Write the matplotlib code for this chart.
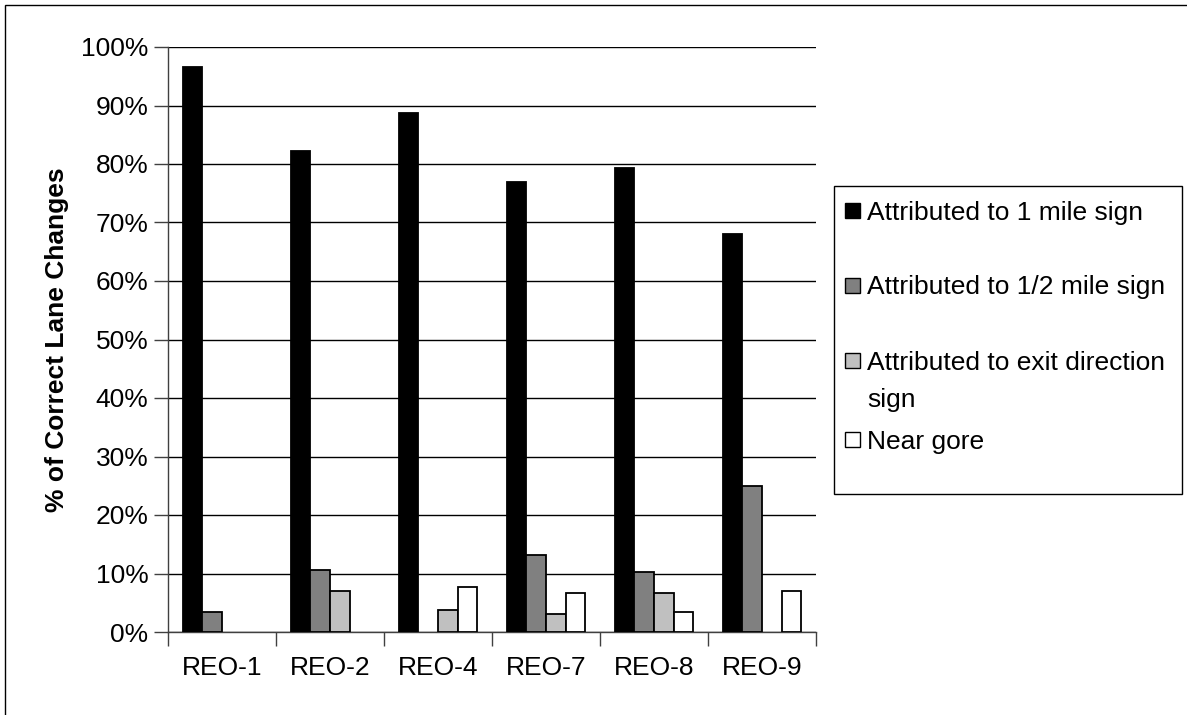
import matplotlib
matplotlib.use("Agg")
import matplotlib.pyplot as plt
import matplotlib.patches as mpatches
import numpy as np

plt.rcParams['font.family'] = ['Liberation Sans', 'DejaVu Sans']

sites = ["REO-1", "REO-2", "REO-4", "REO-7", "REO-8", "REO-9"]
one_mile = [96.5, 82.3, 88.7, 76.9, 79.4, 68.0]
half_mile = [3.5, 10.6, 0, 13.1, 10.2, 25.0]
exit_dir = [0, 7.0, 3.7, 3.1, 6.7, 0]
near_gore = [0, 0, 7.7, 6.7, 3.5, 7.0]

labels = ["Attributed to 1 mile sign", "Attributed to 1/2 mile sign",
          "Attributed to exit direction\nsign", "Near gore"]
colors = ["#000000", "#808080", "#c0c0c0", "#ffffff"]
series = [one_mile, half_mile, exit_dir, near_gore]

W, H = 1187, 715
fig = plt.figure(figsize=(W / 100, H / 100), dpi=100)
ax = fig.add_axes([168 / W, 1 - 632 / H, (816 - 168) / W, (632 - 47) / H])

x = np.arange(len(sites))
w = 1 / 5.5  # excel gap width 150%
for i, (vals, c) in enumerate(zip(series, colors)):
    v = np.array(vals, dtype=float)
    xs = x + (i - 1.5) * w
    mask = v > 0
    ax.bar(xs[mask], v[mask], width=w, color=c, edgecolor="black", linewidth=1.3, zorder=3)

ax.set_xlim(-0.5, len(sites) - 0.5)
ax.set_ylim(0, 100)
ax.set_yticks(np.arange(0, 101, 10))
ax.set_yticklabels([f"{t}%" for t in range(0, 101, 10)], fontsize=19)
ax.set_xticks(x)
ax.set_xticklabels(sites, fontsize=19)
ax.set_xticks(np.arange(-0.5, len(sites), 1), minor=True)
ax.tick_params(axis="x", which="major", length=0, pad=17)
ax.tick_params(axis="x", which="minor", length=10, width=1, color="#404040")
ax.tick_params(axis="y", length=10, width=1, color="#404040", pad=4)
ax.yaxis.grid(True, color="black", linewidth=1)
ax.set_axisbelow(True)
for s in ["top", "right"]:
    ax.spines[s].set_visible(False)
for s in ["left", "bottom"]:
    ax.spines[s].set_color("#404040")
    ax.spines[s].set_linewidth(1)

ax.set_ylabel("% of Correct Lane Changes", fontsize=19, fontweight="bold", labelpad=9)

# legend box drawn by hand (Excel spacing is uneven)
fig.patches.append(mpatches.Rectangle((834 / W, 1 - 494 / H), (1182 - 834) / W, (494 - 186) / H,
                                      transform=fig.transFigure, facecolor="white",
                                      edgecolor="black", linewidth=1))
entry_y = [210, 285, 360, 440]
line_step = 37
sq = 15
for lab, c, y in zip(labels, colors, entry_y):
    fig.patches.append(mpatches.Rectangle((845 / W, 1 - (y + sq / 2) / H), sq / W, sq / H,
                                          transform=fig.transFigure, facecolor=c,
                                          edgecolor="black", linewidth=1))
    for k, line in enumerate(lab.split("\n")):
        fig.text(867 / W, 1 - (y + k * line_step) / H, line, fontsize=19, va="center_baseline", ha="left")

fig.patches.append(mpatches.Rectangle((5 / W, -0.1), 1.2, 1.1 - 5 / H, transform=fig.transFigure,
                                      fill=False, edgecolor="black", linewidth=1))

fig.savefig("out.png", dpi=100)
